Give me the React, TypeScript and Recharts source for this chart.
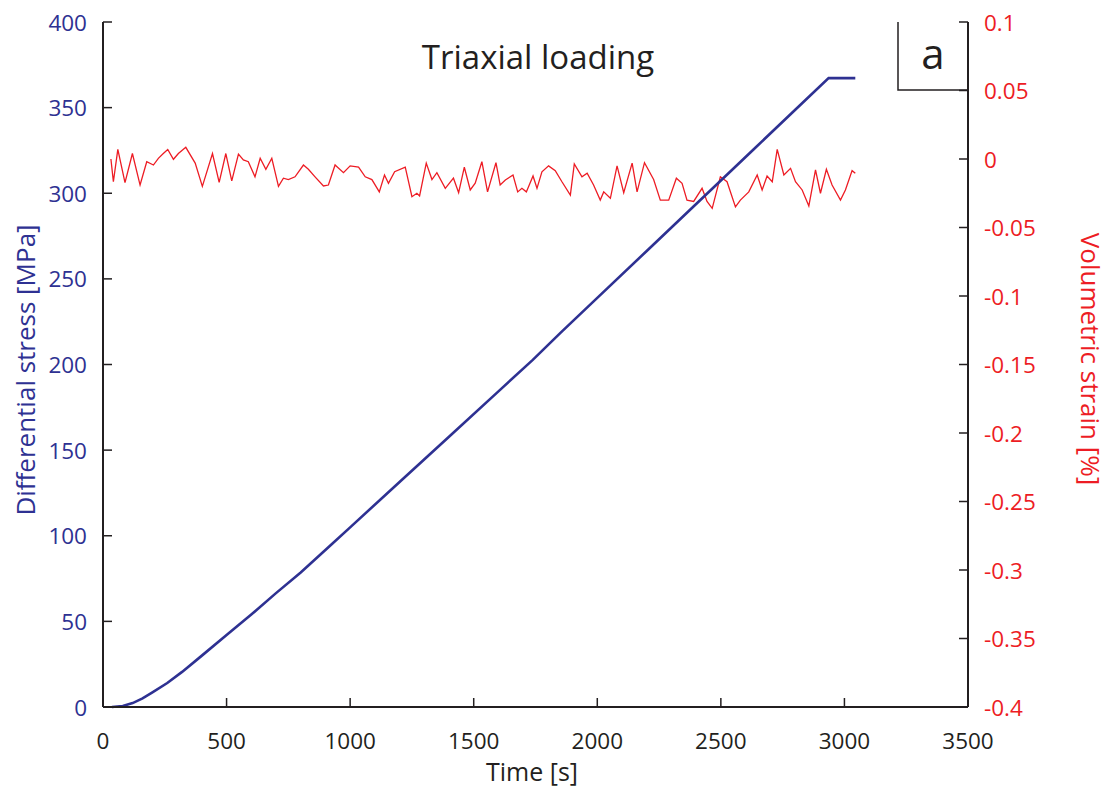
import { LineChart, Line, XAxis, YAxis } from 'recharts';

// differential stress, time [s] / stress [MPa]
const stressTime = [36, 80, 120, 160, 200, 260, 320, 400, 500, 600, 700, 800, 922, 1000, 1200, 1400, 1600, 1739, 1852, 2000, 2200, 2400, 2631, 2800, 2936, 3044];
const stressVals = [0, 0.6, 2.3, 5, 8.5, 14, 20.5, 30, 42, 54, 66.5, 78.5, 94.6, 104.9, 131.4, 157.8, 184.3, 202.7, 218.6, 238.9, 266.3, 293.7, 325.4, 348.6, 367.2, 367.2];

// volumetric strain, time [s] / strain [%]
const strainTime = [
  32, 42, 60, 89, 119, 150, 177, 204, 224, 244, 262, 285, 305, 335, 373, 402, 443, 470, 497, 521,
  548, 568, 588, 615, 636, 659, 683, 710, 730, 750, 777, 811, 831, 858, 892, 912, 939, 973, 1000, 1034,
  1061, 1088, 1118, 1139, 1155, 1180, 1223, 1250, 1270, 1281, 1308, 1331, 1351, 1385, 1418, 1439, 1462, 1486, 1506, 1533,
  1556, 1590, 1607, 1628, 1659, 1678, 1695, 1713, 1740, 1756, 1776, 1803, 1830, 1857, 1891, 1907, 1938, 1959, 1985, 2012,
  2026, 2053, 2080, 2107, 2141, 2161, 2191, 2228, 2255, 2289, 2320, 2343, 2363, 2390, 2424, 2444, 2465, 2498, 2525, 2559,
  2579, 2613, 2647, 2667, 2687, 2708, 2728, 2755, 2782, 2802, 2829, 2856, 2883, 2903, 2927, 2950, 2984, 3004, 3031, 3044,
];
const strainVals = [
  0, -0.0166, 0.007, -0.0173, 0.004, -0.019, -0.002, -0.0044, 0.0005, 0.004, 0.007, -0.0002, 0.004, 0.0085, -0.003, -0.02, 0.004, -0.017, 0.004, -0.016,
  0.0036, -0.0007, -0.002, -0.013, 0.0005, -0.0075, 0.0005, -0.02, -0.014, -0.015, -0.013, -0.0044, -0.0075, -0.013, -0.0197, -0.019, -0.0044, -0.01, -0.005, -0.006,
  -0.013, -0.015, -0.024, -0.0117, -0.0177, -0.0093, -0.006, -0.0275, -0.025, -0.027, -0.003, -0.015, -0.01, -0.0214, -0.014, -0.0246, -0.006, -0.0226, -0.0177, -0.002,
  -0.024, -0.0027, -0.019, -0.0153, -0.0117, -0.024, -0.0214, -0.024, -0.0124, -0.0214, -0.0093, -0.005, -0.0085, -0.0166, -0.0263, -0.0036, -0.013, -0.0104, -0.019, -0.03,
  -0.024, -0.0287, -0.005, -0.0246, -0.003, -0.024, -0.0027, -0.015, -0.03, -0.03, -0.014, -0.0177, -0.03, -0.031, -0.0214, -0.031, -0.036, -0.013, -0.0166, -0.035,
  -0.03, -0.024, -0.0117, -0.0226, -0.0124, -0.0166, 0.007, -0.0117, -0.0068, -0.0166, -0.0226, -0.0343, -0.008, -0.025, -0.0075, -0.019, -0.03, -0.0226, -0.0085, -0.0104,
];

const timeTicks = [0, 500, 1000, 1500, 2000, 2500, 3000, 3500];
const stressTicks = [0, 50, 100, 150, 200, 250, 300, 350, 400];
const strainTicks = [-0.4, -0.35, -0.3, -0.25, -0.2, -0.15, -0.1, -0.05, 0, 0.05, 0.1];

const stressData = stressTime.map((t, i) => ({ t, stress: stressVals[i] }));
const strainData = strainTime.map((t, i) => ({ t, strain: strainVals[i] }));

const BLUE = '#2e3192';
const RED = '#ed1c24';
const INK = '#231f20';
const FONT = '"Open Sans", "Noto Sans", sans-serif';
const TICK = 9;
const TICK_FONT = 22.5;

const LeftTick = ({ x, y, payload }: any) => (
  <g>
    <line x1={x} y1={y} x2={x + TICK} y2={y} stroke={INK} strokeWidth={1.5} />
    <text x={x - 16} y={y} textAnchor="end" dominantBaseline="central" fill={BLUE} fontSize={TICK_FONT} fontFamily={FONT}>
      {payload.value}
    </text>
  </g>
);

const RightTick = ({ x, y, payload }: any) => (
  <g>
    <line x1={x - TICK} y1={y} x2={x} y2={y} stroke={INK} strokeWidth={1.5} />
    <text x={x + 16} y={y} textAnchor="start" dominantBaseline="central" fill={RED} fontSize={TICK_FONT} fontFamily={FONT}>
      {String(parseFloat(payload.value.toFixed(2)))}
    </text>
  </g>
);

const BottomTick = ({ x, y, payload }: any) => (
  <g>
    <line x1={x} y1={y} x2={x} y2={y - TICK} stroke={INK} strokeWidth={1.5} />
    <text x={x} y={y + 33} textAnchor="middle" dominantBaseline="central" fill={INK} fontSize={TICK_FONT} fontFamily={FONT}>
      {payload.value}
    </text>
  </g>
);

const TopTick = ({ x, y }: any) => (
  <line x1={x} y1={y} x2={x} y2={y + TICK} stroke={INK} strokeWidth={1.5} />
);

export default function App() {
  const W = 1100;
  const H = 782;
  return (
    <div style={{ position: 'relative', width: W, height: H }}>
      <LineChart width={W} height={780} margin={{ top: 14, right: 0, bottom: 0, left: 0 }}>
        <XAxis
          xAxisId="bottom"
          type="number"
          dataKey="t"
          domain={[0, 3500]}
          ticks={timeTicks}
          height={81}
          tickSize={0}
          tickMargin={0}
          tickLine={false}
          axisLine={{ stroke: INK, strokeWidth: 2 }}
          tick={BottomTick}
        />
        <XAxis
          xAxisId="top"
          orientation="top"
          type="number"
          dataKey="t"
          domain={[0, 3500]}
          ticks={timeTicks}
          height={0}
          tickSize={0}
          tickMargin={0}
          tickLine={false}
          axisLine={{ stroke: INK, strokeWidth: 2 }}
          tick={TopTick}
        />
        <YAxis
          yAxisId="left"
          domain={[0, 400]}
          ticks={stressTicks}
          width={95}
          tickSize={0}
          tickMargin={0}
          tickLine={false}
          axisLine={{ stroke: INK, strokeWidth: 2 }}
          tick={LeftTick}
        />
        <YAxis
          yAxisId="right"
          orientation="right"
          domain={[-0.4, 0.1]}
          ticks={strainTicks}
          width={140}
          tickSize={0}
          tickMargin={0}
          tickLine={false}
          axisLine={{ stroke: INK, strokeWidth: 2 }}
          tick={RightTick}
        />
        <Line
          data={strainData}
          xAxisId="bottom"
          yAxisId="right"
          dataKey="strain"
          type="linear"
          stroke={RED}
          strokeWidth={1.3}
          dot={false}
          isAnimationActive={false}
        />
        <Line
          data={stressData}
          xAxisId="bottom"
          yAxisId="left"
          dataKey="stress"
          type="linear"
          stroke={BLUE}
          strokeWidth={2.6}
          dot={false}
          isAnimationActive={false}
        />
      </LineChart>
      <svg
        width={W}
        height={H}
        style={{ position: 'absolute', left: 0, top: 0, pointerEvents: 'none' }}
        fontFamily={FONT}
      >
        <text x={530} y={48} textAnchor="middle" dominantBaseline="central" fontSize={33} fill={INK}>
          Triaxial loading
        </text>
        <polyline points="890,14 890,82 960,82" fill="none" stroke={INK} strokeWidth={1.5} />
        <text x={925} y={44} textAnchor="middle" dominantBaseline="central" fontSize={42} fill={INK}>
          a
        </text>
        <text x={524} y={763} textAnchor="middle" dominantBaseline="central" fontSize={25} fill={INK}>
          Time [s]
        </text>
        <text
          x={17}
          y={362}
          textAnchor="middle"
          dominantBaseline="central"
          fontSize={26}
          fill={BLUE}
          transform="rotate(-90 17 362)"
        >
          Differential stress [MPa]
        </text>
        <text
          x={1083}
          y={351}
          textAnchor="middle"
          dominantBaseline="central"
          fontSize={26}
          fill={RED}
          transform="rotate(90 1083 351)"
        >
          Volumetric strain [%]
        </text>
      </svg>
    </div>
  );
}
